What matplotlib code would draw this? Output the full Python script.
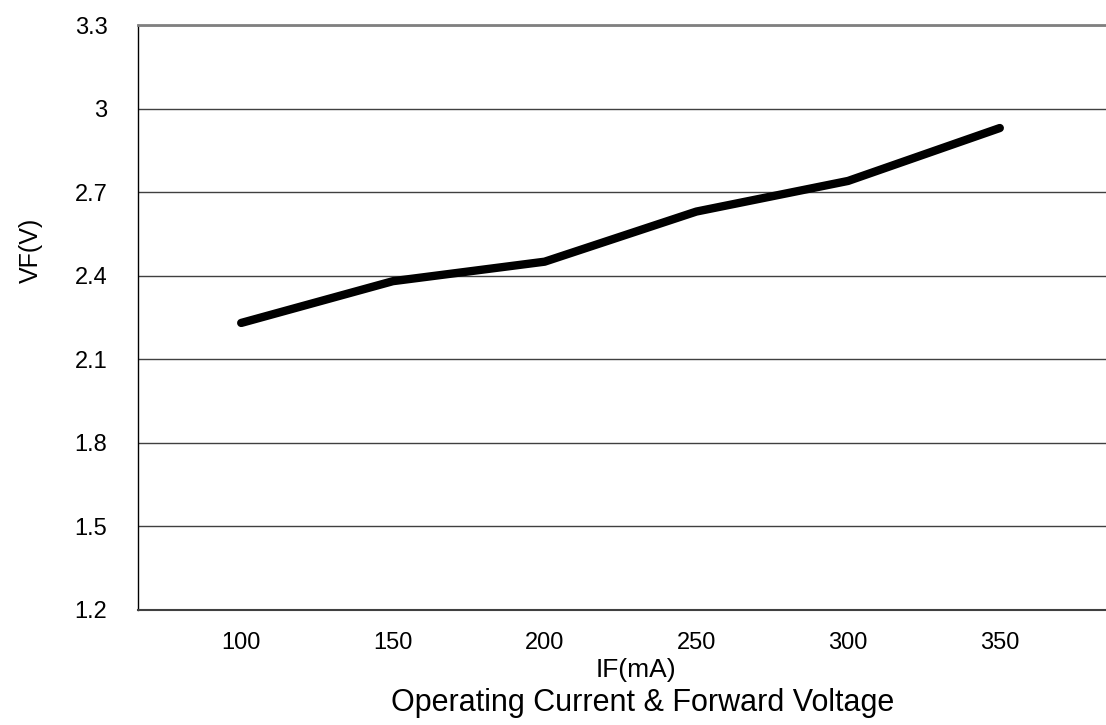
import numpy as np
import matplotlib.pyplot as plt

plt.rcParams['font.family'] = ['Liberation Sans', 'DejaVu Sans']

# forward current (mA) vs forward voltage (V)
current_ma = [100, 150, 200, 250, 300, 350]
voltage_v = [2.23, 2.38, 2.45, 2.63, 2.74, 2.93]
y_ticks = [1.2, 1.5, 1.8, 2.1, 2.4, 2.7, 3.0, 3.3]
y_tick_labels = ['1.2', '1.5', '1.8', '2.1', '2.4', '2.7', '3', '3.3']

fig = plt.figure(figsize=(11.06, 7.25), dpi=100)
ax = fig.add_axes([0.1248, 0.159, 0.8752, 0.8065])

ax.plot(current_ma, voltage_v, color='black', lw=6, solid_capstyle='round',
        solid_joinstyle='round', zorder=3)

ax.set_xlim(66, 385)
ax.set_ylim(1.2, 3.3)
ax.set_xticks(current_ma)
ax.set_xticklabels([str(c) for c in current_ma])
ax.set_yticks(y_ticks)
ax.set_yticklabels(y_tick_labels)
ax.tick_params(length=0, labelsize=17)
ax.tick_params(axis='x', pad=16)
ax.tick_params(axis='y', pad=22)

ax.grid(axis='y', color='#404040', lw=1)
ax.grid(axis='x', visible=False)

ax.spines['right'].set_visible(False)
ax.spines['top'].set_color('#808080')
ax.spines['top'].set_linewidth(2)
ax.spines['left'].set_color('black')
ax.spines['left'].set_linewidth(1)
ax.spines['bottom'].set_color('#404040')
ax.spines['bottom'].set_linewidth(1.5)

ax.set_ylabel('VF(V)', fontsize=18)
ax.yaxis.set_label_coords(-0.098, 0.615)
fig.text(0.575, 0.076, 'IF(mA)', ha='center', va='center', fontsize=19)
fig.text(0.581, 0.030, 'Operating Current & Forward Voltage', ha='center',
         va='center', fontsize=22)

fig.savefig('out.png', dpi=100)
